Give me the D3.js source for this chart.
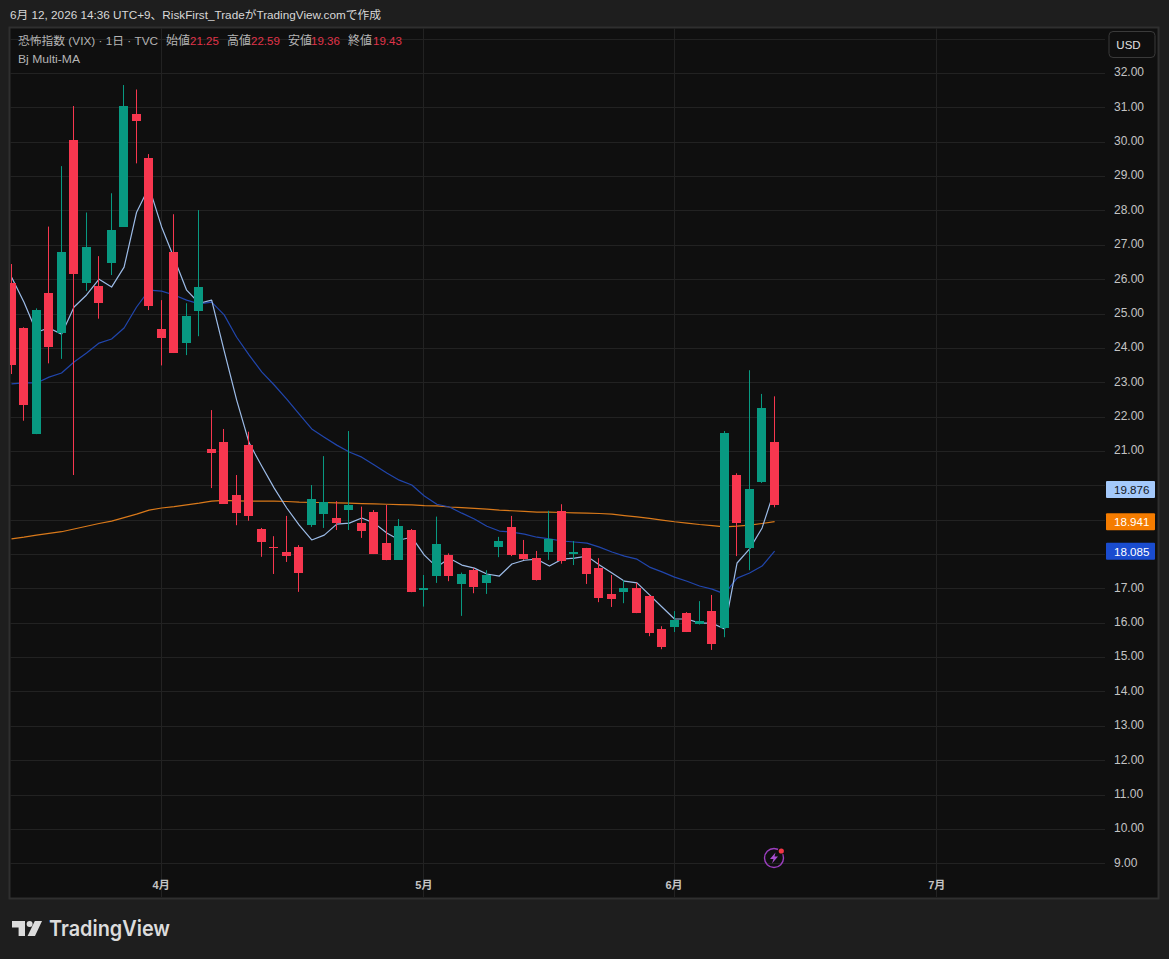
<!DOCTYPE html>
<html>
<head>
<meta charset="utf-8">
<script src="https://cdn.jsdelivr.net/npm/d3@7"></script>
<style>
html,body{margin:0;padding:0;background:#1e1e1e;overflow:hidden}
svg{display:block}
text{font-family:"Liberation Sans","Noto Sans CJK JP",sans-serif}
</style>
</head>
<body>
<svg id="c" width="1169" height="959"></svg>
<script>
const open  = [25.88,24.58,21.49,25.59,24.44,30.05,25.90,25.80,26.48,27.53,30.80,29.52,24.55,26.79,24.15,25.08,21.06,21.26,19.72,21.17,18.73,18.21,18.06,18.20,18.84,19.16,19.05,19.28,18.90,19.22,18.32,17.83,18.70,16.96,17.36,17.97,17.13,17.53,17.16,18.20,18.79,18.00,17.88,18.06,19.25,18.00,18.17,17.59,16.84,16.89,17.01,16.78,15.82,15.88,16.28,15.96,16.34,15.85,20.30,18.17,20.09,21.25];
const high  = [26.44,24.60,25.15,27.53,29.29,31.04,27.94,26.67,28.50,31.65,31.52,29.64,25.39,27.89,25.30,28.01,22.19,21.64,20.30,21.56,18.76,18.52,19.11,18.26,20.01,20.85,19.54,21.58,19.38,19.28,19.43,19.02,18.73,17.39,19.09,18.02,17.46,17.59,17.53,18.50,19.11,18.41,18.09,19.26,19.45,18.38,18.18,17.88,17.39,17.24,17.16,16.81,15.90,16.34,16.31,16.63,16.81,21.58,20.35,23.35,22.66,22.59];
const low   = [23.24,21.88,21.49,23.55,23.68,20.30,25.66,24.85,26.12,27.53,29.37,25.10,23.49,23.85,23.79,24.34,19.92,19.46,18.84,18.97,17.92,17.42,17.77,16.90,18.79,18.76,18.70,18.70,18.47,18.00,17.82,17.83,16.89,16.47,17.16,17.21,16.20,16.86,16.84,17.91,17.94,17.83,17.23,17.83,17.72,17.68,17.13,16.60,16.46,16.57,16.28,15.61,15.23,15.73,15.73,15.95,15.21,15.58,17.94,17.53,20.07,19.36];
const close = [23.50,22.34,25.10,24.03,26.79,26.15,26.93,25.31,27.43,31.04,30.60,25.22,24.29,23.85,24.93,25.77,20.94,19.46,19.19,19.11,18.35,18.18,17.94,17.45,19.60,19.51,18.90,19.43,18.67,18.00,17.83,18.81,16.89,17.01,18.29,17.36,17.42,17.04,17.39,18.38,17.97,17.85,17.24,18.44,17.80,18.06,17.42,16.72,16.69,17.01,16.28,15.70,15.29,16.08,15.73,16.05,15.38,21.52,18.91,19.89,22.25,19.43];
const fastMA = [26.06,25.33,24.46,24.58,24.40,25.19,25.54,26.00,25.77,26.35,27.95,28.68,27.52,26.61,25.68,25.30,25.39,23.91,22.48,21.23,20.56,19.92,19.34,18.84,18.41,18.55,18.87,18.90,19.05,18.90,18.61,18.41,18.49,17.97,17.62,17.88,17.68,17.59,17.42,17.36,17.71,17.82,17.85,17.65,17.85,17.88,17.94,17.68,17.45,17.21,17.16,16.81,16.46,16.11,16.11,15.99,15.99,15.82,17.74,18.15,18.76,19.876];
const slowMA = [22.95,22.98,22.98,23.15,23.27,23.59,23.85,24.14,24.26,24.58,25.19,25.68,25.65,25.54,25.39,25.28,25.33,24.96,24.31,23.79,23.30,22.92,22.51,22.07,21.64,21.40,21.17,20.97,20.82,20.59,20.36,20.15,20.01,19.69,19.45,19.37,19.19,19.02,18.81,18.67,18.64,18.58,18.49,18.44,18.38,18.35,18.32,18.20,18.06,17.94,17.85,17.62,17.48,17.33,17.21,17.07,16.98,16.84,17.30,17.45,17.65,18.085];
const longMA = [18.44,18.49,18.55,18.60,18.65,18.73,18.81,18.89,18.96,19.06,19.16,19.28,19.34,19.38,19.43,19.48,19.54,19.56,19.55,19.54,19.54,19.54,19.53,19.51,19.50,19.50,19.49,19.48,19.47,19.46,19.45,19.44,19.43,19.41,19.40,19.37,19.35,19.33,19.31,19.28,19.26,19.24,19.22,19.22,19.21,19.20,19.19,19.18,19.16,19.12,19.08,19.04,18.99,18.94,18.90,18.86,18.83,18.79,18.81,18.84,18.89,18.941];
const priceTicks = [32,31,30,29,28,27,26,25,24,23,22,21,17,16,15,14,13,12,11,10,9];
const gridPrices = [33,32,31,30,29,28,27,26,25,24,23,22,21,20,19,18,17,16,15,14,13,12,11,10,9];
const monthIndex = [12,33,53,74];
const monthLabels = ["4月","5月","6月","7月"];
const badgeValues = [19.876,18.941,18.085];
const badgeLabels = ["19.876","18.941","18.085"];
const titleText = "6月 12, 2026 14:36 UTC+9、RiskFirst_TradeがTradingView.comで作成";
const legendName = "恐怖指数 (VIX) · 1日 · TVC";
const ohlcNames = ["始値","高値","安値","終値"];
const ohlcValues = ["21.25","22.59","19.36","19.43"];
const indicatorName = "Bj Multi-MA";

const UP="#089981", DOWN="#f7374f", FAST="#9dbce8", SLOW="#2146ad", LONG="#d9791a";
const svg=d3.select("#c");
const L=10,R=1158,T=27,B=898,AX=1105;
const x=d3.scaleLinear().domain([0,74]).range([11,936.74]);
const y=d3.scaleLinear().domain([9,32]).range([863.3,73]);

svg.append("rect").attr("width",1169).attr("height",959).attr("fill","#1e1e1e");
svg.append("rect").attr("x",L-0.5).attr("y",T+0.5).attr("width",R-L+1).attr("height",B-T)
  .attr("fill","#0f0f0f").attr("stroke","#2f2f2f").attr("stroke-width",2);
svg.append("defs").append("clipPath").attr("id","plot").append("rect")
  .attr("x",L).attr("y",T+1).attr("width",AX-L).attr("height",B-T-2);

svg.append("text").attr("x",10).attr("y",19).attr("fill","#d8d8d8").attr("font-size",11.4)
  .attr("textLength",371).attr("lengthAdjust","spacingAndGlyphs").text(titleText);

const plot=svg.append("g").attr("clip-path","url(#plot)");
plot.append("g").selectAll("line").data(gridPrices).join("line")
  .attr("x1",L).attr("x2",AX).attr("y1",d=>Math.round(y(d))+.5).attr("y2",d=>Math.round(y(d))+.5)
  .attr("stroke","#222222");
plot.append("g").selectAll("line").data(monthIndex).join("line")
  .attr("y1",T).attr("y2",B).attr("x1",d=>Math.floor(x(d))+.5).attr("x2",d=>Math.floor(x(d))+.5)
  .attr("stroke","#222222");

const line=d3.line().x((d,i)=>x(i)+.5).y(d=>y(d));
[[longMA,LONG],[slowMA,SLOW],[fastMA,FAST]].forEach(([s,c])=>{
  plot.append("path").datum(s).attr("d",line).attr("fill","none").attr("stroke",c)
    .attr("stroke-width",1.2).attr("stroke-linejoin","round");
});

const idx=d3.range(open.length);
const col=i=>close[i]>=open[i]?UP:DOWN;
plot.append("g").selectAll("line").data(idx).join("line")
  .attr("x1",i=>Math.floor(x(i))+.5).attr("x2",i=>Math.floor(x(i))+.5)
  .attr("y1",i=>y(high[i])).attr("y2",i=>y(low[i])).attr("stroke",col);
plot.append("g").selectAll("rect").data(idx).join("rect")
  .attr("x",i=>Math.floor(x(i))-4).attr("width",9)
  .attr("y",i=>Math.round(y(Math.max(open[i],close[i]))))
  .attr("height",i=>Math.max(1,Math.round(y(Math.min(open[i],close[i])))-Math.round(y(Math.max(open[i],close[i])))))
  .attr("fill",col);

const yAxis=d3.axisRight(y).tickValues(priceTicks).tickSize(0).tickPadding(9).tickFormat(d3.format(".2f"));
const gy=svg.append("g").attr("transform",`translate(${AX},-1)`).call(yAxis);
gy.select(".domain").remove();
gy.selectAll("text").attr("fill","#c4c4c4").attr("font-size",12).attr("font-family",'"Liberation Sans",sans-serif');

const xAxis=d3.axisBottom(x).tickValues(monthIndex).tickSize(0).tickPadding(9).tickFormat((d,i)=>monthLabels[i]);
const gx=svg.append("g").attr("transform","translate(-0.5,872)").call(xAxis);
gx.select(".domain").remove();
gx.selectAll("text").attr("fill","#c4c4c4").attr("font-size",11).attr("font-weight","bold");

const legendY=45;
const lg=svg.append("g").attr("font-size",11.5);
lg.append("text").attr("x",18).attr("y",legendY).attr("fill","#b4b4b4")
  .attr("textLength",140).attr("lengthAdjust","spacingAndGlyphs").text(legendName);
const nameX=[166,227,288,348], valX=[190,251,311,373];
ohlcNames.forEach((n,i)=>{
  lg.append("text").attr("x",nameX[i]).attr("y",legendY).attr("fill","#b4b4b4").attr("font-size",12).text(n);
  lg.append("text").attr("x",valX[i]).attr("y",legendY).attr("fill","#e0344a").text(ohlcValues[i]);
});
lg.append("text").attr("x",18).attr("y",63).attr("fill","#b4b4b4")
  .attr("textLength",62).attr("lengthAdjust","spacingAndGlyphs").text(indicatorName);

svg.append("rect").attr("x",1109).attr("y",31.5).attr("width",46).attr("height",26).attr("rx",4)
  .attr("fill","#0f0f0f").attr("stroke","#3a3a3a");
svg.append("text").attr("x",1128.5).attr("y",49).attr("text-anchor","middle").attr("fill","#e0e0e0")
  .attr("font-size",11.5).text("USD");

const badgeFill=["#a4c9fb","#f57c00","#1a4ccf"], badgeText=["#131722","#ffffff","#ffffff"];
badgeValues.forEach((v,i)=>{
  const cy=y(v);
  const g=svg.append("g");
  g.append("rect").attr("x",1106).attr("y",cy-8.5).attr("width",49).attr("height",17).attr("rx",1).attr("fill",badgeFill[i]);
  g.append("text").attr("x",1114).attr("y",cy+4.5).attr("fill",badgeText[i]).attr("font-size",11.6).text(badgeLabels[i]);
});

// replay icon
const ic=svg.append("g").attr("transform","translate(774,858)");
ic.append("circle").attr("r",9.5).attr("fill","none").attr("stroke","#9c3fc0").attr("stroke-width",1.4);
ic.append("path").attr("d","M1.5,-5.5 L-4,1 L-0.5,1 L-2,5.5 L4,-1.5 L0.5,-1.5 Z").attr("fill","#a94fd0");
ic.append("circle").attr("cx",7.3).attr("cy",-7).attr("r",3.6).attr("fill","#0f0f0f");
ic.append("circle").attr("cx",7.3).attr("cy",-7).attr("r",2.6).attr("fill","#f23645");

// logo
const logo=svg.append("g").attr("fill","#dcdcdc");
logo.append("path").attr("d","M12,921 H25 V936 H18.6 V927.5 H12 Z");
logo.append("circle").attr("cx",29.6).attr("cy",924).attr("r",3);
logo.append("path").attr("d","M34.8,921 H42 L35,936 H27.6 Z");
logo.append("text").attr("x",49).attr("y",936).attr("font-size",21.5).attr("font-weight",600)
  .style("font-family","Inter,sans-serif").attr("textLength",121).attr("lengthAdjust","spacingAndGlyphs").text("TradingView");
</script>
</body>
</html>
